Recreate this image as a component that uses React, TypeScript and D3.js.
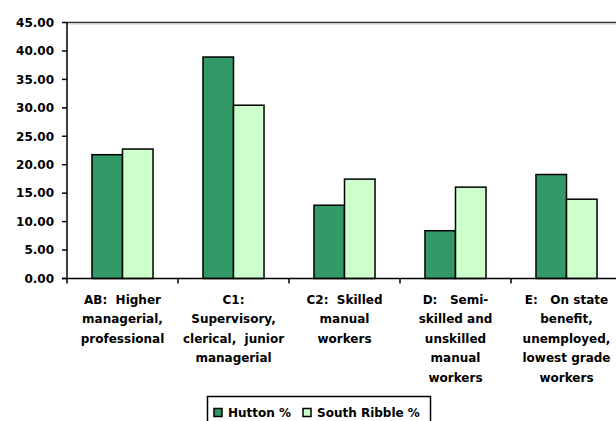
import React from "react";
import * as d3 from "d3";

const categories: string[][] = [
  ["AB:  Higher", "managerial,", "professional"],
  ["C1:", "Supervisory,", "clerical,  junior", "managerial"],
  ["C2:  Skilled", "manual", "workers"],
  ["D:   Semi-", "skilled and", "unskilled", "manual", "workers"],
  ["E:   On state", "benefit,", "unemployed,", "lowest grade", "workers"],
];
const seriesNames = ["Hutton %", "South Ribble %"];
const hutton = [21.76, 38.93, 12.88, 8.4, 18.28];
const southRibble = [22.76, 30.46, 17.47, 16.06, 13.94];
const yTicks = [0, 5, 10, 15, 20, 25, 30, 35, 40, 45];
const colors = ["#339966", "#CCFFCC"];

const W = 616;
const H = 421;
const FONT = "'DejaVu Sans', sans-serif";

export default function App() {
  const x0 = 67;
  const step = 111;
  const x = d3
    .scaleBand<number>()
    .domain(d3.range(categories.length))
    .range([x0, x0 + step * categories.length])
    .paddingInner(0.45)
    .paddingOuter(0.225);
  const xs = d3.scaleBand<number>().domain([0, 1]).range([0, x.bandwidth()]);
  const y = d3.scaleLinear().domain([0, 45]).range([278.5, 22.5]);
  const fmt = d3.format(".2f");
  const series = [hutton, southRibble];
  const bounds = d3.range(categories.length + 1).map((i) => x0 + i * x.step());
  const xEnd = x0 + x.step() * categories.length;

  return (
    <svg
      width={W}
      height={H}
      style={{ position: "absolute", left: 0, top: 0, background: "#fff" }}
      fontFamily={FONT}
    >
      {/* top border */}
      <line x1={x0} x2={xEnd} y1={y(45)} y2={y(45)} stroke="#333" strokeWidth={1.5} />
      <line x1={x0} x2={xEnd} y1={y(45) + 1.5} y2={y(45) + 1.5} stroke="#ccc" strokeWidth={1} />
      {/* bars */}
      {series.map((vals, s) =>
        vals.map((v, i) => (
          <rect
            key={`${s}-${i}`}
            x={(x(i) as number) + (xs(s) as number)}
            y={y(v)}
            width={xs.bandwidth()}
            height={y(0) - y(v)}
            fill={colors[s]}
            stroke="#000"
            strokeWidth={1.5}
          />
        ))
      )}
      {/* y axis */}
      <line x1={x0} x2={x0} y1={y(45)} y2={y(0)} stroke="#000" strokeWidth={1.5} />
      {yTicks.map((t) => (
        <g key={t}>
          <line x1={x0 - 5} x2={x0} y1={y(t)} y2={y(t)} stroke="#000" strokeWidth={1.5} />
          <text
            x={54}
            y={y(t)}
            dy="0.36em"
            textAnchor="end"
            fontSize={12}
            fontWeight="bold"
            fill="#000"
          >
            {fmt(t)}
          </text>
        </g>
      ))}
      {/* x axis */}
      <line x1={x0 - 5} x2={xEnd} y1={y(0)} y2={y(0)} stroke="#000" strokeWidth={1.5} />
      {bounds.map((b, i) => (
        <line key={i} x1={b} x2={b} y1={y(0)} y2={y(0) + 5} stroke="#000" strokeWidth={1.5} />
      ))}
      {categories.map((lines, i) => (
        <text
          key={i}
          x={(x(i) as number) + x.bandwidth() / 2}
          textAnchor="middle"
          fontSize={12}
          fontWeight="bold"
          fill="#000"
          style={{ whiteSpace: "pre" }}
        >
          {lines.map((ln, j) => (
            <tspan key={j} x={(x(i) as number) + x.bandwidth() / 2} y={303.5 + j * 19.5}>
              {ln}
            </tspan>
          ))}
        </text>
      ))}
      {/* legend */}
      <rect x={207.5} y={396.5} width={223} height={30} fill="#fff" stroke="#000" strokeWidth={1.5} />
      {seriesNames.map((n, s) => {
        const lx = s === 0 ? 214 : 303;
        return (
          <g key={n}>
            <rect x={lx} y={408.5} width={8} height={8} fill={colors[s]} stroke="#000" strokeWidth={1.5} />
            <text x={lx + 14} y={417} fontSize={12} fontWeight="bold" fill="#000">
              {n}
            </text>
          </g>
        );
      })}
    </svg>
  );
}
